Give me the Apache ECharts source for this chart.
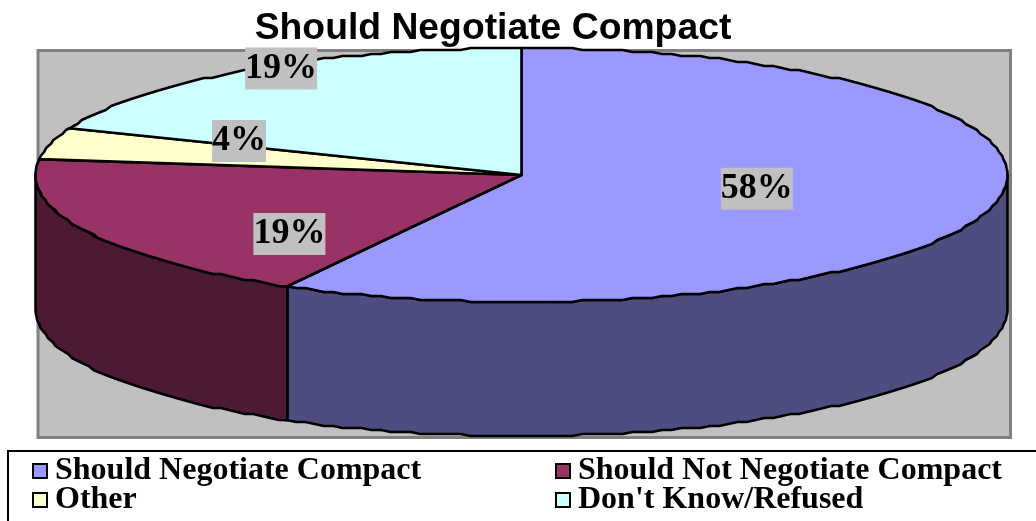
<!DOCTYPE html>
<html>
<head>
<meta charset="utf-8">
<style>html,body{margin:0;padding:0;background:#fff}#c{width:1036px;height:521px}</style>
<script src="https://cdn.jsdelivr.net/npm/echarts@6/dist/echarts.min.js"></script>
</head>
<body>
<div id="c"></div>
<script>
const chartTitle = 'Should Negotiate Compact';
const categories = ['Should Negotiate Compact', 'Should Not Negotiate Compact', 'Other', "Don't Know/Refused"];
const shares = [58, 19, 4, 19];
const topColors = ['#9999FF', '#993366', '#FFFFCC', '#CCFFFF'];
const sideColors = ['#4D4D80', '#4D1933', '#808066', '#668080'];

const CX = 521.5, CY = 175, RX = 486, RY = 127, DEPTH = 134;
const labelRadial = [0.5, 0.536, 0.6, 0.88];
const labelDy = [-2, 28, -15, -14];
const total = shares.reduce((a, b) => a + b, 0);
const startAngle = i => shares.slice(0, i).reduce((a, b) => a + b, 0) / total * 360;
const rad = d => d * Math.PI / 180;
const ex = a => CX + RX * Math.sin(rad(a));
const ey = a => CY - RY * Math.cos(rad(a));
// the original rim is a coarse stair-stepped polyline
const qy = y => Math.round(y / 2) * 2;
function rim(a0, a1, dy) {
  const pts = [];
  const n = Math.max(2, Math.ceil(Math.abs(a1 - a0) / 1.2));
  for (let k = 0; k <= n; k++) {
    const a = a0 + (a1 - a0) * k / n;
    const end = k === 0 || k === n;
    pts.push([ex(a), (end ? ey(a) : qy(ey(a))) + dy]);
  }
  return pts;
}
function sliceSeries(i) {
  return {
    type: 'custom', name: categories[i], coordinateSystem: 'none', silent: true, z: 2,
    itemStyle: { color: topColors[i] },
    data: [[shares[i]]],
    renderItem: (params, api) => {
      const a0 = startAngle(i), a1 = a0 + api.value(0) / total * 360;
      const children = [];
      const s0 = Math.max(a0, 90), s1 = Math.min(a1, 270);
      if (s1 > s0) {
        const upper = rim(s0, s1, 0), lower = rim(s1, s0, DEPTH);
        children.push({
          type: 'polygon', shape: { points: upper.concat(lower) },
          style: { fill: sideColors[i], stroke: '#000', lineWidth: 2.6, lineJoin: 'round' }
        });
      }
      children.push({
        type: 'polygon', shape: { points: [[CX, CY]].concat(rim(a0, a1, 0)) },
        style: { fill: topColors[i], stroke: '#000', lineWidth: 2.6, lineJoin: 'round' }
      });
      return { type: 'group', children };
    }
  };
}
const labelSeries = {
  type: 'custom', coordinateSystem: 'none', silent: true, z: 5,
  data: shares.map((v, i) => [v, i]),
  renderItem: (params, api) => {
    const i = api.value(1);
    const mid = startAngle(i) + api.value(0) / total / 2 * 360;
    return {
      type: 'text',
      style: {
        text: api.value(0) + '%',
        x: CX + RX * Math.sin(rad(mid)) * labelRadial[i],
        y: CY - RY * Math.cos(rad(mid)) * labelRadial[i] + labelDy[i],
        align: 'center', verticalAlign: 'middle',
        font: 'bold 36px "Liberation Serif"', fill: '#000',
        backgroundColor: '#C0C0C0', padding: [3, 0, 3, 0]
      }
    };
  }
};
const legendBase = {
  orient: 'vertical', icon: 'rect', itemWidth: 14, itemHeight: 14, itemGap: -3, selectedMode: false,
  padding: 0, top: 455,
  itemStyle: { borderColor: '#000', borderWidth: 2 },
  textStyle: { fontFamily: 'Liberation Serif', fontWeight: 'bold', fontSize: 32, lineHeight: 29, color: '#000', padding: [0, 0, 0, 3] }
};
const chart = echarts.init(document.getElementById('c'), null, { renderer: 'canvas' });
chart.setOption({
  animation: false,
  backgroundColor: '#fff',
  title: {
    text: chartTitle, left: 493, top: 10, textAlign: 'center', padding: 0,
    textStyle: { fontFamily: 'Liberation Sans', fontWeight: 'bold', fontSize: 37.3, color: '#000' }
  },
  legend: [
    Object.assign({}, legendBase, { left: 32, data: [categories[0], categories[2]] }),
    Object.assign({}, legendBase, { left: 555, data: [categories[1], categories[3]] })
  ],
  graphic: [
    { type: 'rect', z: 0, shape: { x: 38, y: 50.5, width: 972.5, height: 387 },
      style: { fill: '#C0C0C0', stroke: '#808080', lineWidth: 3 } },
    { type: 'rect', z: 0, shape: { x: 8, y: 451, width: 1060, height: 120 },
      style: { fill: '#fff', stroke: '#000', lineWidth: 2 } }
  ],
  series: categories.map((c, i) => sliceSeries(i)).concat([labelSeries])
});
</script>
</body>
</html>
